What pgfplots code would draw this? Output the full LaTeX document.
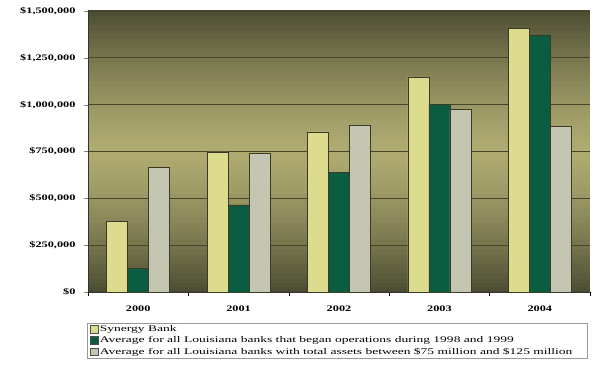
\documentclass[border=0pt]{standalone}
\usepackage{fontspec}
\setmainfont{Liberation Serif}[FakeStretch=1.45]
\newfontfamily\legfont{Liberation Serif}[FakeStretch=1.56]
\usepackage{pgfplots}
\usetikzlibrary{calc}
\pgfplotsset{compat=1.18}
\definecolor{syn}{HTML}{DCDB8E}
\definecolor{grn}{HTML}{0B5D42}
\definecolor{gry}{HTML}{C5C6B2}
\definecolor{gridc}{HTML}{45452C}
\definecolor{edgec}{HTML}{3A3A26}
\definecolor{bgdark}{HTML}{4C4C32}
\definecolor{bglight}{HTML}{AEAA70}
\begin{document}
\begin{tikzpicture}
\begin{axis}[
  scale only axis,
  width=502bp, height=281bp,
  xmin=-0.5, xmax=4.5,
  ymin=0, ymax=1500000,
  ybar=0pt, bar width=21bp,
  xtick={0,1,2,3,4},
  xticklabels={2000,2001,2002,2003,2004},
  minor xtick={-0.5,0.5,1.5,2.5,3.5,4.5},
  major x tick style={draw=none},
  minor x tick style={draw=black, line width=0.6pt},
  ytick={0,250000,500000,750000,1000000,1250000,1500000},
  yticklabels={\$0,{\$250,000},{\$500,000},{\$750,000},{\$1,000,000},{\$1,250,000},{\$1,500,000}},
  scaled y ticks=false,
  ymajorgrids,
  major grid style={draw=gridc, line width=1.1pt},
  tick align=outside,
  major tick length=4bp, minor tick length=4bp,
  axis x line*=bottom, axis y line*=left,
  axis line style={draw=black!80, line width=0.8pt, -},
  ticklabel style={font=\bfseries\fontsize{8.5}{10}\selectfont},
  xticklabel style={yshift=-6bp},
  yticklabel style={xshift=-5bp},
  axis background/.style={path picture={
    \foreach \i in {0,...,59}{
      \pgfmathsetmacro{\t}{(\i+0.5)/60}
      \pgfmathsetmacro{\p}{100*(1-abs(2*\t-1)^1.4)}
      \pgfmathsetmacro{\fa}{\i/60}
      \pgfmathsetmacro{\fb}{min(1,(\i+1.05)/60)}
      \colorlet{stripc}{bglight!\p!bgdark}
      \fill[stripc] ($(path picture bounding box.south west)!\fa!(path picture bounding box.north west)$)
        rectangle ($(path picture bounding box.south east)!\fb!(path picture bounding box.north east)$);
    }}},
  legend style={at={(axis description cs:-0.002,-0.11)}, anchor=north west,
    draw=gray!80, line width=0.8pt, fill=white,
    font=\legfont\fontsize{8.7}{10}\selectfont, row sep=1.5bp, inner xsep=3bp, inner ysep=1.5bp,
    nodes={inner sep=1bp}},
  legend cell align=left,
  legend image code/.code={\draw[#1, draw=black!70, line width=0.5pt] (0bp,-3.5bp) rectangle (8bp,4bp);},
]
\addplot[fill=syn, draw=edgec, line width=0.6pt] coordinates {(0,375000) (1,748000) (2,855000) (3,1148000) (4,1405000)};
\addplot[fill=grn, draw=edgec, line width=0.6pt] coordinates {(0,125000) (1,465000) (2,640000) (3,1000000) (4,1372000)};
\addplot[fill=gry, draw=edgec, line width=0.6pt] coordinates {(0,667000) (1,742000) (2,890000) (3,975000) (4,885000)};
\legend{\makebox[483bp][l]{Synergy Bank},Average for all Louisiana banks that began operations during 1998 and 1999,Average for all Louisiana banks with total assets between \$75 million and \$125 million}
\end{axis}
\useasboundingbox ([xshift=-88bp,yshift=11bp]current axis.north west) rectangle ([xshift=3bp,yshift=-74bp]current axis.south east);
\end{tikzpicture}
\end{document}
